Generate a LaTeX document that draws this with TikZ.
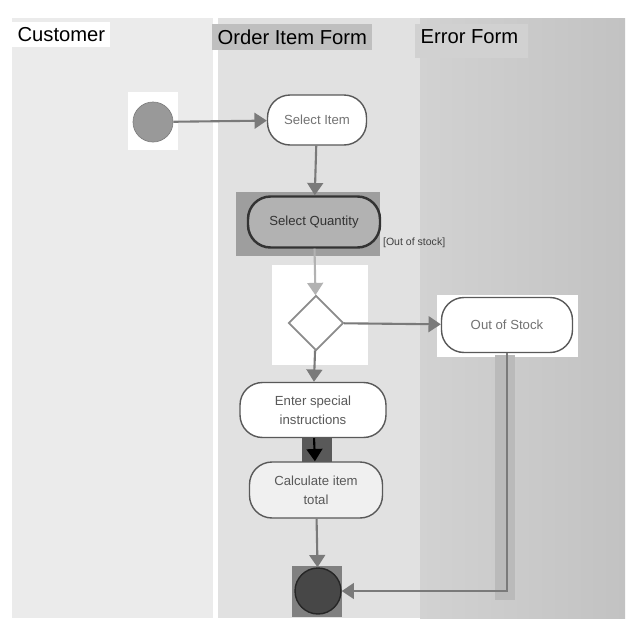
\documentclass[tikz,border=0pt]{standalone}
\usepackage{fontspec}
\setmainfont{Liberation Sans}
\usetikzlibrary{shapes.geometric}
\usetikzlibrary{arrows.meta}
\usetikzlibrary{positioning}
\definecolor{lanea}{HTML}{EBEBEB}
\definecolor{laneb}{HTML}{E1E1E1}
\definecolor{lanec}{HTML}{D2D2D2}
\definecolor{laned}{HTML}{C2C2C2}
\definecolor{edgegray}{HTML}{7A7A7A}
\begin{document}
\begin{tikzpicture}[x=0.02cm, y=-0.02cm,
    lanehead/.style={font=\fontsize{11.5}{13}\selectfont, inner sep=3pt, anchor=north west},
    act/.style={draw=black!65, line width=0.8pt, rounded corners=0.45cm, fill=white, align=center,
      font=\fontsize{7.5}{11}\selectfont, text=black!55, inner sep=2pt},
    flow/.style={draw=edgegray, line width=1.2pt, -{Triangle[length=7pt, width=9pt]}}]
  \useasboundingbox (0,0) rectangle (640,640);
  \fill[white] (0,0) rectangle (640,640);
  % swim lanes
  \fill[lanea] (12,18) rectangle (213,618);
  \fill[laneb] (218,18) rectangle (420,618);
  \shade[left color=lanec, right color=laned] (420,18) rectangle (625,618);
  \fill[black!18] (415,24) rectangle (528,58);
  \node[lanehead, fill=white] (hcust) at (12,22) {Customer};
  \node[lanehead, fill=black!25] (horder) at (212,24) {Order Item Form};
  \node[lanehead] (herror) at (415,24) {Error Form};
  % halos behind the shapes
  \fill[white] (128,92) rectangle (178,150);
  \fill[white] (272,265) rectangle (368,365);
  \fill[white] (437,295) rectangle (578,357);
  \fill[black!38] (236,192) rectangle (380,256);
  \fill[black!50] (292,566) rectangle (342,617);
  \fill[black!65] (302,436) rectangle (332,465);
  \fill[black!27] (495,355) rectangle (515,600);
  % activities
  \node[circle, draw=black!50, fill=black!40, minimum size=0.8cm] (start) at (153,122) {};
  \node[act, minimum width=1.98cm, minimum height=1cm] (selitem) at (317,120) {Select Item};
  \node[act, fill=black!30, draw=black!80, line width=1.4pt, text=black!80,
    minimum width=2.64cm, minimum height=1.02cm] (selqty) at (314,222) {Select Quantity};
  \node[font=\fontsize{6}{7}\selectfont, text=black!75, anchor=west, inner sep=1pt] (guard) at (381,243) {[Out of stock]};
  \node[diamond, draw=black!45, line width=1pt, fill=white, aspect=1, minimum size=1.1cm, inner sep=0pt] (choice) at (316,323) {};
  \node[act, minimum width=2.62cm, minimum height=1.1cm] (oos) at (507,325) {Out of Stock};
  \node[act, text=black!65, minimum width=2.92cm, minimum height=1.1cm] (special) at (313,410) {Enter special\\instructions};
  \node[act, fill=black!6, text=black!65, minimum width=2.66cm, minimum height=1.12cm] (calc) at (316,490) {Calculate item\\total};
  \node[circle, draw=black!85, fill=black!72, line width=0.8pt, minimum size=0.92cm] (final) at (318,591) {};
  % flows
  \draw[flow] (start) -- (selitem);
  \draw[flow] (selitem) -- (selqty);
  \draw[flow, draw=black!30] (selqty) -- (choice);
  \draw[flow] (choice) -- (oos);
  \draw[flow] (choice) -- (special);
  \draw[flow, draw=black] (special) -- (calc);
  \draw[flow] (calc) -- (final);
  \draw[flow] (oos.south) |- (final.east);
\end{tikzpicture}
\end{document}
